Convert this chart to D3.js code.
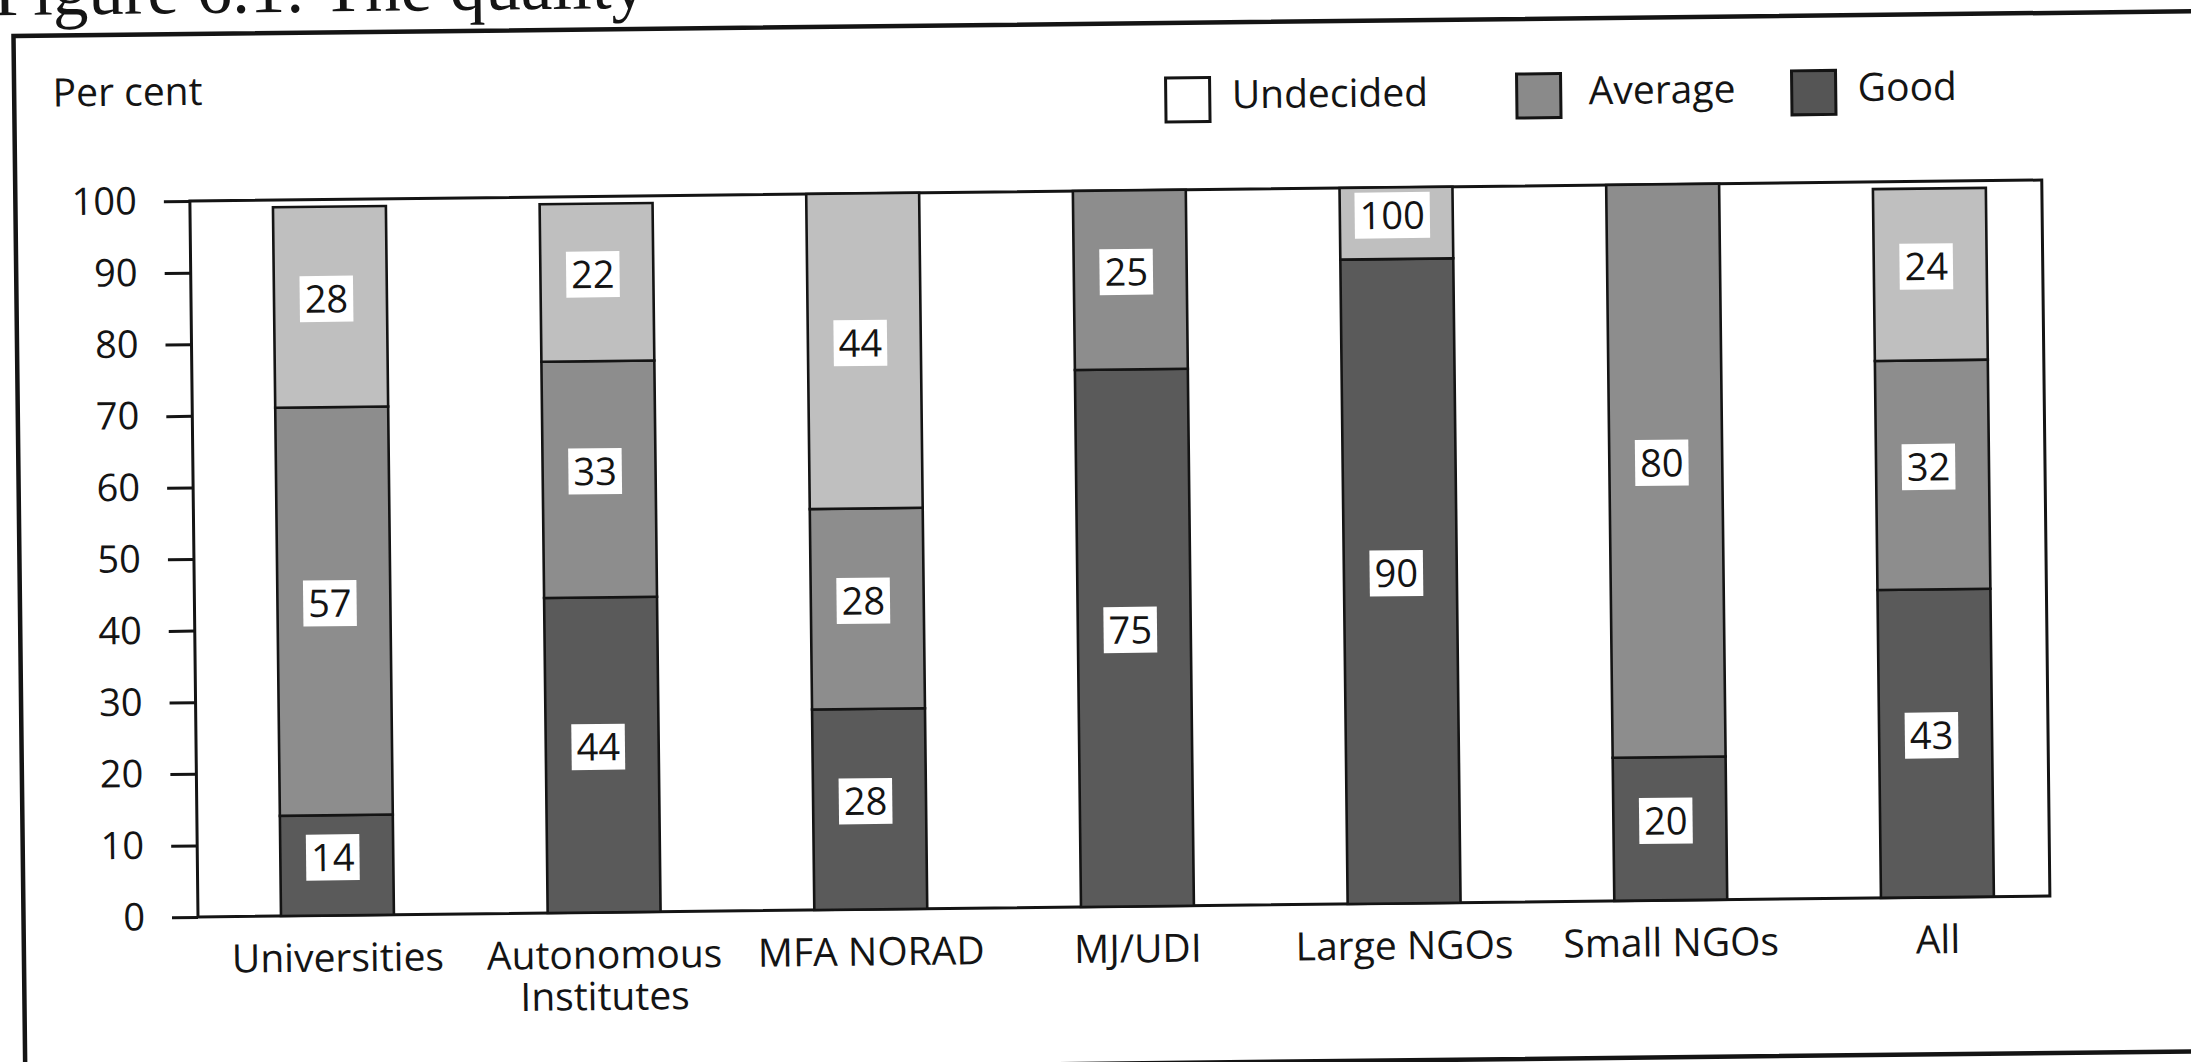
<!DOCTYPE html>
<html>
<head>
<meta charset="utf-8">
<script src="https://cdn.jsdelivr.net/npm/d3@7"></script>
<style>
  html, body { margin: 0; padding: 0; background: #fff; overflow: hidden; }
  svg { display: block; }
  text { font-family: "Open Sans", "Noto Sans", sans-serif; fill: #141414; }
</style>
</head>
<body>
<svg id="chart" width="2191" height="1062"></svg>
<script>
// ---- data ---------------------------------------------------------------
const categories = ["Universities", "Autonomous Institutes", "MFA NORAD", "MJ/UDI",
                    "Large NGOs", "Small NGOs", "All"];
const good      = [14, 44, 28, 75, 90, 20, 43];
const average   = [57, 33, 28, 25,  0, 80, 32];
const undecided = [28, 22, 44,  0, 10,  0, 24];
// figures as printed in the undecided segments (Large NGOs is printed as "100")
const undecidedPrinted = ["28", "22", "44", "", "100", "", "24"];
const yTicks = [0, 10, 20, 30, 40, 50, 60, 70, 80, 90, 100];
const seriesNames = ["Undecided", "Average", "Good"];

// ---- layout -------------------------------------------------------------
const W = 2191, H = 1062;
const plot = { left: 198, right: 2050, top: 201, bottom: 917 };
const tilt = -0.65;                       // the printed page sits slightly askew
const fills = { good: "#5a5a5a", average: "#8d8d8d", undecided: "#bfbfbf" };
const legendFills = { Undecided: "#ffffff", Average: "#8a8a8a", Good: "#555555" };
const ink = "#141414";

const svg = d3.select("#chart").attr("viewBox", `0 0 ${W} ${H}`);
const root = svg.append("g")
  .attr("transform", `rotate(${tilt},${plot.left},${plot.bottom})`);

// outer frame and running title
root.append("rect")
  .attr("x", 23.5).attr("y", 34)
  .attr("width", 2300).attr("height", 1074 - 34)
  .attr("fill", "none").attr("stroke", ink).attr("stroke-width", 4.5);

root.append("text")
  .attr("x", 4).attr("y", 13)
  .style("font-family", "'Liberation Serif', 'DejaVu Serif', serif")
  .style("font-size", "71px")
  .text("Figure 6.1: The quality");

root.append("text")
  .attr("x", 62).attr("y", 105)
  .style("font-size", "39px")
  .text("Per cent");

// ---- scales ---------------------------------------------------------------
const y = d3.scaleLinear().domain([0, 100]).range([plot.bottom, plot.top]);
const x = d3.scaleBand()
  .domain(categories)
  .range([plot.left + 83, plot.right - 56])
  .paddingInner(0.5765)
  .paddingOuter(0);

// ---- plot area + y axis -------------------------------------------------------
root.append("rect")
  .attr("x", plot.left).attr("y", y(100))
  .attr("width", plot.right - plot.left).attr("height", y(0) - y(100))
  .attr("fill", "#fff").attr("stroke", ink).attr("stroke-width", 3);

const yAxis = root.append("g")
  .attr("transform", `translate(${plot.left},0)`)
  .call(d3.axisLeft(y).tickValues(yTicks).tickSize(26).tickPadding(27));
yAxis.select(".domain").remove();
yAxis.selectAll(".tick line").attr("stroke", ink).attr("stroke-width", 3);
yAxis.selectAll(".tick text")
  .style("font-family", "'Open Sans', 'Noto Sans', sans-serif")
  .style("font-size", "38px").attr("fill", ink);

// ---- stacked bars -----------------------------------------------------------
const rows = categories.map((c, i) => ({
  category: c, good: good[i], average: average[i], undecided: undecided[i],
  undecidedLabel: undecidedPrinted[i]
}));
const keys = ["good", "average", "undecided"];
const stacked = d3.stack().keys(keys)(rows);

const layers = root.append("g").selectAll("g")
  .data(stacked).join("g")
  .attr("fill", d => fills[d.key]);

layers.selectAll("rect")
  .data(d => d.filter(s => s[1] - s[0] > 0))
  .join("rect")
  .attr("x", d => x(d.data.category))
  .attr("y", d => y(d[1]))
  .attr("width", x.bandwidth())
  .attr("height", d => y(d[0]) - y(d[1]))
  .attr("stroke", ink).attr("stroke-width", 2.6);

// value boxes inside the segments
const labelData = [];
stacked.forEach(layer => {
  layer.forEach(s => {
    const v = s[1] - s[0];
    if (v <= 0) return;
    const text = layer.key === "undecided" ? s.data.undecidedLabel : String(v);
    labelData.push({ cat: s.data.category, lo: s[0], hi: s[1], text });
  });
});

const labels = root.append("g").selectAll("g")
  .data(labelData).join("g")
  .attr("transform", d =>
    `translate(${x(d.cat) + x.bandwidth() / 2 - 4},${(y(d.lo) + y(d.hi)) / 2 - 8})`);

labels.append("text")
  .attr("text-anchor", "middle")
  .attr("dy", "0.36em")
  .style("font-size", "38px")
  .text(d => d.text);

labels.each(function () {
  const g = d3.select(this);
  const t = g.select("text");
  const w = t.node().getComputedTextLength();
  g.insert("rect", "text")
    .attr("x", -w / 2 - 5).attr("y", -23)
    .attr("width", w + 10).attr("height", 46)
    .attr("fill", "#ffffff");
});

// ---- category axis ------------------------------------------------------------
const xAxis = root.append("g")
  .attr("transform", `translate(0,${plot.bottom})`)
  .call(d3.axisBottom(x).tickSize(0).tickPadding(0));
xAxis.select(".domain").remove();
xAxis.selectAll(".tick text")
  .style("font-family", "'Open Sans', 'Noto Sans', sans-serif")
  .style("font-size", "39px").attr("fill", ink)
  .attr("y", 56).attr("dy", null)
  .each(function (d) {
    const t = d3.select(this);
    const words = d === "Autonomous Institutes" ? ["Autonomous", "Institutes"] : [d];
    t.text(null);
    words.forEach((wd, i) => {
      t.append("tspan").attr("x", 0).attr("dy", i === 0 ? 0 : 41.6).text(wd);
    });
  });

// ---- legend -----------------------------------------------------------------------
const legendPos = { Undecided: [1175, 1241], Average: [1526, 1598], Good: [1801, 1867] };
const legend = root.append("g").selectAll("g")
  .data(seriesNames).join("g");
legend.append("rect")
  .attr("x", d => legendPos[d][0]).attr("y", 89)
  .attr("width", 44).attr("height", 44)
  .attr("fill", d => legendFills[d])
  .attr("stroke", ink).attr("stroke-width", 3);
legend.append("text")
  .attr("x", d => legendPos[d][1]).attr("y", 120)
  .style("font-size", "39px")
  .text(d => d);
</script>
</body>
</html>
